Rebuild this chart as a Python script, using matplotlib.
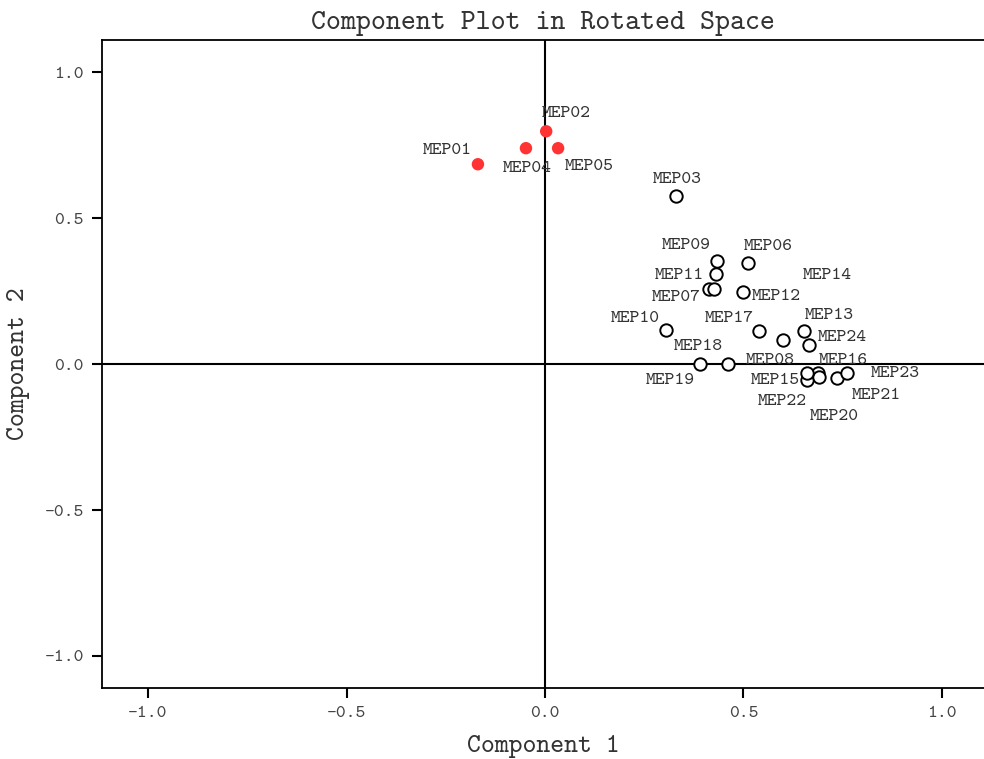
import numpy as np
import matplotlib
matplotlib.use("Agg")
import matplotlib.pyplot as plt

plt.rcParams['font.family'] = ['cmtt10', 'Liberation Mono']
plt.rcParams['axes.unicode_minus'] = False

# component loadings
names = ["MEP01", "MEP02", "MEP03", "MEP04", "MEP05", "MEP06", "MEP07", "MEP08",
         "MEP09", "MEP10", "MEP11", "MEP12", "MEP13", "MEP14", "MEP15", "MEP16",
         "MEP17", "MEP18", "MEP19", "MEP20", "MEP21", "MEP22", "MEP23", "MEP24"]
comp1 = [-0.169, 0.003, 0.330, -0.048, 0.033, 0.511, 0.413, 0.462,
         0.434, 0.306, 0.432, 0.500, 0.653, 0.599, 0.659, 0.688,
         0.540, 0.426, 0.390, 0.691, 0.735, 0.659, 0.761, 0.665]
comp2 = [0.685, 0.798, 0.575, 0.740, 0.740, 0.345, 0.256, 0.002,
         0.354, 0.116, 0.310, 0.246, 0.113, 0.084, -0.055, -0.032,
         0.113, 0.258, 0.002, -0.043, -0.046, -0.030, -0.030, 0.065]
highlighted = ["MEP01", "MEP02", "MEP04", "MEP05"]

# label offsets in pixels (dx right, dy up)
label_offsets = [(-31, 14), (20, 18), (1, 17), (1, -20), (31, -18), (20, 17), (-33, -8), (42, 3),
                 (-31, 15), (-31, 12), (-37, -2), (33, -4), (25, 16), (45, 64), (-31, 0), (25, 13),
                 (-30, 13), (-16, -58), (-30, -17), (15, -40), (40, -18), (-24, -29), (48, -1), (33, 8)]

comp1 = np.array(comp1)
comp2 = np.array(comp2)
red = np.array([n in highlighted for n in names])

fig = plt.figure(figsize=(9.84, 7.59), dpi=100)
ax = fig.add_axes([0.1037, 0.0935, 0.8963, 0.8535])

ax.axhline(0, color='black', lw=1.5, zorder=1)
ax.axvline(0, color='black', lw=1.5, zorder=1)

ax.scatter(comp1[~red], comp2[~red], s=80, facecolors='white', edgecolors='black',
           linewidths=1.4, zorder=3)
ax.scatter(comp1[red], comp2[red], s=80, color='#ff3333', edgecolors='none', zorder=3)

for n, x, y, (dx, dy) in zip(names, comp1, comp2, label_offsets):
    ax.annotate(n, (x, y), xytext=(dx * 0.72, dy * 0.72), textcoords='offset points',
                ha='center', va='center', fontsize=13.5, color='#333333')

ax.set_xlim(-1.116, 1.106)
ax.set_ylim(-1.11, 1.11)
ax.set_xticks([-1.0, -0.5, 0.0, 0.5, 1.0])
ax.set_yticks([-1.0, -0.5, 0.0, 0.5, 1.0])
ax.xaxis.set_major_formatter(matplotlib.ticker.FormatStrFormatter('%.1f'))
ax.yaxis.set_major_formatter(matplotlib.ticker.FormatStrFormatter('%.1f'))
ax.tick_params(direction='out', length=7, width=1.5, labelsize=13.5, labelcolor='#444444', pad=6)
ax.spines['right'].set_visible(False)
for s in ['left', 'bottom', 'top']:
    ax.spines[s].set_linewidth(1.3)

ax.set_title("Component Plot in Rotated Space", fontsize=20.5, color='#333333', pad=8)
ax.set_xlabel("Component 1", fontsize=19, color='#333333')
ax.set_ylabel("Component 2", fontsize=19, color='#333333')
ax.xaxis.set_label_coords(0.5, -58 / 648, transform=ax.transAxes)
ax.yaxis.set_label_coords(-84 / 882, 0.5, transform=ax.transAxes)
ax.xaxis.label.set_va('center')
ax.yaxis.label.set_va('center')

fig.savefig("out.png", dpi=100)
